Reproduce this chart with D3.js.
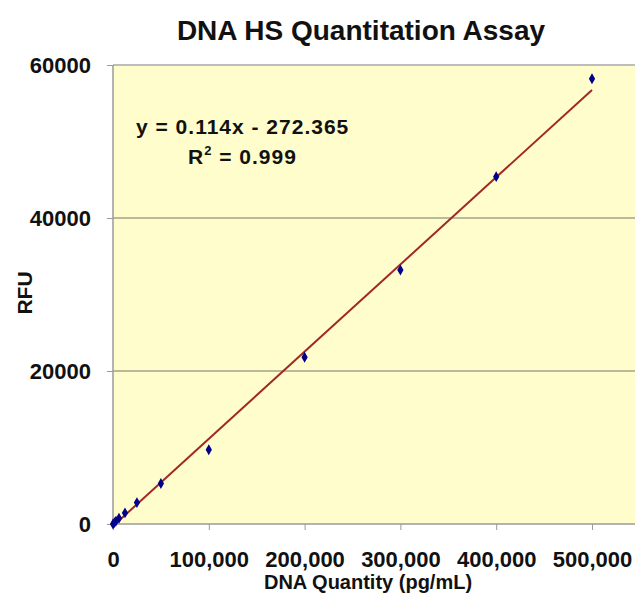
<!DOCTYPE html>
<html>
<head>
<meta charset="utf-8">
<script src="https://cdn.jsdelivr.net/npm/d3@7"></script>
<style>
	body { margin: 0; background: #fff; }
	text { font-family: "Liberation Sans", Arial, sans-serif; font-weight: bold; fill: #111; }
</style>
</head>
<body>
<div id="chart"></div>
<script>
// standards
var quantity = [0, 1562.5, 3125, 6250, 12500, 25000, 50000, 100000, 200000, 300000, 400000, 500000];
var rfu = [0, 180, 380, 750, 1450, 2800, 5300, 9700, 21800, 33200, 45400, 58200];
var xTicks = [0, 100000, 200000, 300000, 400000, 500000];
var yTicks = [0, 20000, 40000, 60000];
var slope = 0.114, intercept = -272.365;
var eqText = "y = 0.114x - 272.365";

var width = 635, height = 598;
var margin = {top: 65, right: 0, bottom: 74, left: 113};

var svg = d3.select("#chart").append("svg")
	.attr("width", width)
	.attr("height", height);

var x = d3.scaleLinear()
	.domain([0, 545000])
	.range([margin.left, margin.left + 545000 * 0.000958]);

var y = d3.scaleLinear()
	.domain([0, 60000])
	.range([height - margin.bottom, margin.top]);

// plot area
svg.append("rect")
	.attr("x", x(0))
	.attr("y", y(60000))
	.attr("width", width - x(0))
	.attr("height", y(0) - y(60000))
	.style("fill", "#FFFDCB");

// gridlines
svg.selectAll(".grid")
	.data(yTicks.filter(function(d) { return d > 0; }))
	.enter().append("line")
	.attr("class", "grid")
	.attr("x1", x(0))
	.attr("x2", width)
	.attr("y1", function(d) { return y(d); })
	.attr("y2", function(d) { return y(d); })
	.style("stroke", function(d) { return d == 60000 ? "#BDBDBD" : "#A3A38A"; })
	.style("stroke-width", function(d) { return d == 60000 ? 2 : 1.3; });

var xAxis = d3.axisBottom(x).tickValues(xTicks).tickSize(6).tickPadding(21)
	.tickFormat(d3.format(","));
var yAxis = d3.axisLeft(y).tickValues(yTicks).tickSize(6).tickPadding(16)
	.tickFormat(d3.format("d"));

var gx = svg.append("g")
	.attr("transform", "translate(0," + y(0) + ")")
	.call(xAxis);
var gy = svg.append("g")
	.attr("transform", "translate(" + x(0) + ",0)")
	.call(yAxis);

[gx, gy].forEach(function(g) {
	g.select(".domain").style("stroke", "#9A9A9A").style("stroke-width", 1.5);
	g.selectAll(".tick line").style("stroke", "#9A9A9A");
	g.selectAll(".tick text").style("font-size", "22px").style("fill", "#111");
});
gx.select(".domain").attr("d", "M" + x(0) + ",0H" + width);
gy.select(".domain").attr("d", "M0," + y(0) + "V" + y(60000));

// trendline
svg.append("line")
	.attr("x1", x(0))
	.attr("y1", y(slope * 0 + intercept))
	.attr("x2", x(500000))
	.attr("y2", y(slope * 500000 + intercept))
	.style("stroke", "#A02828")
	.style("stroke-width", 2);

// points
svg.selectAll(".pt")
	.data(quantity)
	.enter().append("path")
	.attr("class", "pt")
	.attr("d", d3.symbol(d3.symbolDiamond, 34))
	.attr("transform", function(d, i) { return "translate(" + x(d) + "," + y(rfu[i]) + ")"; })
	.style("fill", "#00008B");

// equation
svg.append("text")
	.attr("x", 136)
	.attr("y", 134)
	.style("font-size", "21px")
	.style("letter-spacing", "1px")
	.text(eqText);
var r2 = svg.append("text")
	.attr("x", 188)
	.attr("y", 164)
	.style("font-size", "21px")
	.style("letter-spacing", "1px");
r2.append("tspan").text("R");
r2.append("tspan").attr("dy", -9).style("font-size", "13px").text("2");
r2.append("tspan").attr("dy", 9).text(" = 0.999");

// titles
svg.append("text")
	.attr("x", 361)
	.attr("y", 40)
	.attr("text-anchor", "middle")
	.style("font-size", "28px")
	.text("DNA HS Quantitation Assay");

svg.append("text")
	.attr("x", 368)
	.attr("y", 589)
	.attr("text-anchor", "middle")
	.style("font-size", "20px")
	.text("DNA Quantity (pg/mL)");

svg.append("text")
	.attr("transform", "translate(32,293) rotate(-90)")
	.attr("text-anchor", "middle")
	.style("font-size", "21px")
	.text("RFU");
</script>
</body>
</html>
